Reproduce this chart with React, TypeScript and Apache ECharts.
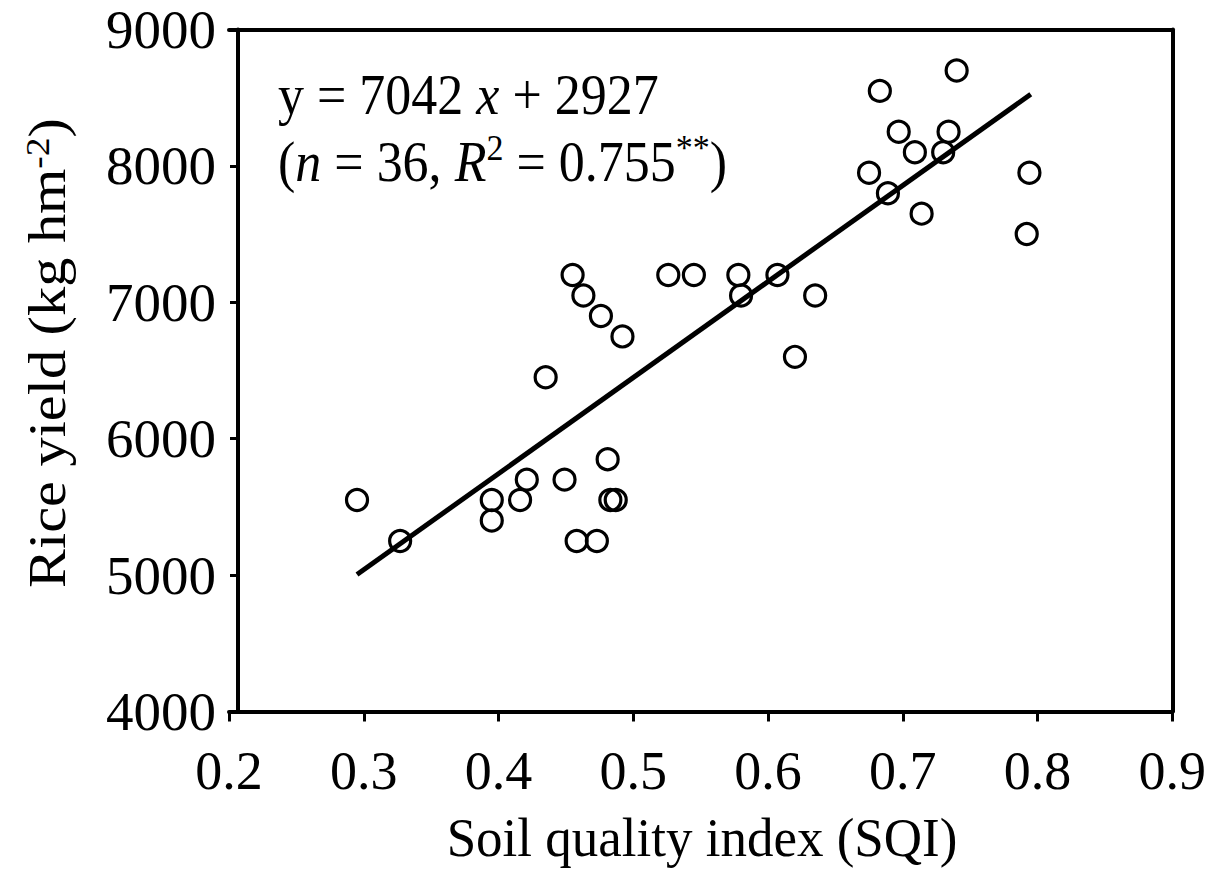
import React, { useEffect, useRef } from "react";
import * as echarts from "echarts";

const sqi = [0.295, 0.327, 0.395, 0.395, 0.416, 0.421, 0.435, 0.449, 0.455, 0.458, 0.463, 0.476, 0.473, 0.481, 0.483, 0.487, 0.492, 0.526, 0.545, 0.578, 0.58, 0.607, 0.62, 0.635, 0.675, 0.683, 0.689, 0.697, 0.709, 0.714, 0.73, 0.734, 0.74, 0.792, 0.794];
const yieldVals = [5550, 5250, 5550, 5400, 5550, 5700, 6450, 5700, 7200, 5250, 7050, 6900, 5250, 5850, 5550, 5550, 6750, 7200, 7200, 7200, 7050, 7200, 6600, 7050, 7950, 8550, 7800, 8250, 8100, 7650, 8100, 8250, 8700, 7500, 7950];
const slope = 7042;
const intercept = 2927;
const fitRange = [0.295, 0.795];
const xTicks = { min: 0.2, max: 0.9, interval: 0.1 };
const yTicks = { min: 4000, max: 9000, interval: 1000 };
const xTitle = "Soil quality index (SQI)";
const yTitle = "Rice yield (kg hm{sup|-2})";
const equation = "y = 7042 {i|x} + 2927\n({i|n} = 36, {i|R}{sup|2} = 0.755{sup|**})";

const FONT = "Liberation Serif";

export default function App() {
  const ref = useRef<HTMLDivElement>(null);
  useEffect(() => {
    if (!ref.current) return;
    const chart = echarts.init(ref.current, null, { renderer: "svg" });
    const points = sqi.map((x, i) => [x, yieldVals[i]]);
    const fit = fitRange.map((x) => [x, slope * x + intercept]);
    const axisLineStyle = { color: "#000", width: 4 };
    chart.setOption({
      animation: false,
      backgroundColor: "#fff",
      grid: { left: 229, right: 34.5, top: 29.5, bottom: 161.5, containLabel: false },
      xAxis: [
        {
          type: "value",
          min: xTicks.min,
          max: xTicks.max,
          interval: xTicks.interval,
          position: "bottom",
          axisLine: { show: true, onZero: false, lineStyle: axisLineStyle },
          axisTick: { show: true, length: 10, lineStyle: { color: "#000", width: 3 } },
          splitLine: { show: false },
          axisLabel: {
            margin: 32,
            color: "#000",
            fontFamily: FONT,
            fontSize: 54,
            formatter: (v: number) => v.toFixed(1),
          },
        },
        {
          type: "value",
          min: xTicks.min,
          max: xTicks.max,
          position: "top",
          axisLine: { show: true, onZero: false, lineStyle: axisLineStyle },
          axisTick: { show: false },
          axisLabel: { show: false },
          splitLine: { show: false },
        },
      ],
      yAxis: [
        {
          type: "value",
          min: yTicks.min,
          max: yTicks.max,
          interval: yTicks.interval,
          position: "left",
          offset: -9,
          axisLine: { show: true, onZero: false, lineStyle: axisLineStyle },
          axisTick: { show: true, length: 8, lineStyle: { color: "#000", width: 3 } },
          splitLine: { show: false },
          axisLabel: {
            margin: 22,
            color: "#000",
            fontFamily: FONT,
            fontSize: 55,
            formatter: (v: number) => String(v),
          },
        },
        {
          type: "value",
          min: yTicks.min,
          max: yTicks.max,
          position: "right",
          axisLine: { show: true, onZero: false, lineStyle: axisLineStyle },
          axisTick: { show: false },
          axisLabel: { show: false },
          splitLine: { show: false },
        },
      ],
      graphic: [
        {
          type: "text",
          x: 278,
          y: 62,
          scaleY: 1.08,
          style: {
            text: equation,
            fill: "#000",
            fontFamily: FONT,
            fontSize: 52,
            lineHeight: 62,
            rich: {
              i: { fontFamily: FONT, fontSize: 52, fontStyle: "italic", fill: "#000", lineHeight: 62 },
              sup: { fontFamily: FONT, fontSize: 34, fill: "#000", verticalAlign: "top", lineHeight: 62 },
            },
          },
        },
        {
          type: "text",
          x: 702,
          y: 838,
          scaleY: 1.05,
          style: {
            text: xTitle,
            fill: "#000",
            fontFamily: FONT,
            fontSize: 53,
            align: "center",
            verticalAlign: "middle",
          },
        },
        {
          type: "text",
          x: 47,
          y: 353,
          rotation: Math.PI / 2,
          scaleX: 1.1,
          style: {
            text: yTitle,
            fill: "#000",
            fontFamily: FONT,
            fontSize: 53,
            align: "center",
            verticalAlign: "middle",
            rich: {
              sup: { fontFamily: FONT, fontSize: 34, fill: "#000", verticalAlign: "top" },
            },
          },
        },
      ],
      series: [
        {
          type: "line",
          data: fit,
          xAxisIndex: 0,
          yAxisIndex: 0,
          showSymbol: false,
          symbol: "none",
          lineStyle: { color: "#000", width: 5 },
          z: 2,
        },
        {
          type: "scatter",
          data: points,
          xAxisIndex: 0,
          yAxisIndex: 0,
          symbol: "circle",
          symbolSize: 21,
          itemStyle: { color: "rgba(255,255,255,0)", borderColor: "#000", borderWidth: 3.2, opacity: 1 },
          z: 3,
        },
      ],
    });
    return () => chart.dispose();
  }, []);
  return <div ref={ref} style={{ width: 1209, height: 873, position: "absolute", left: 0, top: 0 }} />;
}
